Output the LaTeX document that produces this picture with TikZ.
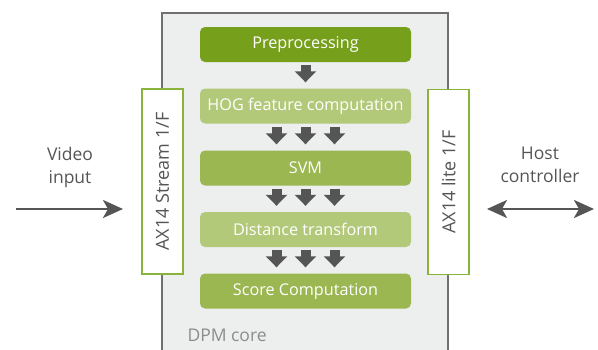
\documentclass[tikz,border=0pt]{standalone}
\usepackage{fontspec}
\setmainfont{Open Sans}
\usetikzlibrary{arrows.meta}
\definecolor{gdark}{HTML}{76A01C}
\definecolor{gmid}{HTML}{9BB752}
\definecolor{glight}{HTML}{B2C97A}
\definecolor{gframe}{HTML}{8AB33A}
\definecolor{corebg}{HTML}{EDEEEE}
\definecolor{coreline}{HTML}{707070}
\definecolor{arrgray}{HTML}{555555}
\definecolor{txtgray}{HTML}{555555}
\tikzset{
  stage/.style={rounded corners=5pt, inner sep=0pt, minimum width=211pt, minimum height=35pt, text=white, font=\fontsize{16.2}{19}\selectfont},
  iface/.style={draw=gframe, line width=1.6pt, fill=white, inner sep=0pt, minimum width=41pt, minimum height=185pt},
  iftext/.style={rotate=90, text=txtgray, font=\fontsize{18}{20}\selectfont},
  blockarrow/.style={draw=arrgray, line width=10pt, -{Triangle[width=21pt,length=11pt]}, shorten <=3pt, shorten >=6pt},
  linearrow/.style={draw=arrgray, line width=2.5pt},
  label/.style={text=txtgray, align=center, font=\fontsize{17.5}{23}\selectfont}
}
\begin{document}
\begin{tikzpicture}[x=1pt,y=-1pt]
\useasboundingbox (0,0) rectangle (598,349);
% core
\path[fill=corebg, draw=coreline, line width=1.2pt] (162,360) -- (162,13) -- (448,13) -- (448,360);
\node[anchor=base west, text=black!45, font=\fontsize{17.5}{20}\selectfont] (core) at (184,341) {DPM core};
% stages
\node[stage, fill=gdark]  (pre) at (305.5,44.5) {Preprocessing};
\node[stage, fill=glight] (hog) at (305.5,106) {HOG feature computation};
\node[stage, fill=gmid]   (svm) at (305.5,168) {SVM};
\node[stage, fill=glight] (dist) at (305.5,229.5) {Distance transform};
\node[stage, fill=gmid]   (score) at (305.5,291) {Score Computation};
% arrows between stages
\draw[blockarrow] (pre.south) -- (hog.north);
\foreach \dx in {-29,0,29}{
  \draw[blockarrow] ([xshift=\dx]hog.south) -- ([xshift=\dx]svm.north);
  \draw[blockarrow] ([xshift=\dx]svm.south) -- ([xshift=\dx]dist.north);
  \draw[blockarrow] ([xshift=\dx]dist.south) -- ([xshift=\dx]score.north);
}
% interfaces
\node[iface] (lif) at (162.5,181.5) {};
\node[iftext] at (lif.center) {AX14 Stream 1/F};
\node[iface] (rif) at (448.5,182) {};
\node[iftext] at (rif.center) {AX14 lite 1/F};
% external
\node[label] (vid) at (70,167) {Video\\input};
\coordinate (vin) at (16,209);
\coordinate (vout) at (123,209);
\draw[linearrow, -{Stealth[length=20pt,width=18pt,inset=5pt]}] (vin) -- (vout);
\node[label] (host) at (540,165) {Host\\controller};
\coordinate (h1) at (487,209);
\coordinate (h2) at (594,209);
\draw[linearrow, {Stealth[length=20pt,width=18pt,inset=5pt]}-{Stealth[length=20pt,width=18pt,inset=5pt]}] (h1) -- (h2);
\end{tikzpicture}
\end{document}
